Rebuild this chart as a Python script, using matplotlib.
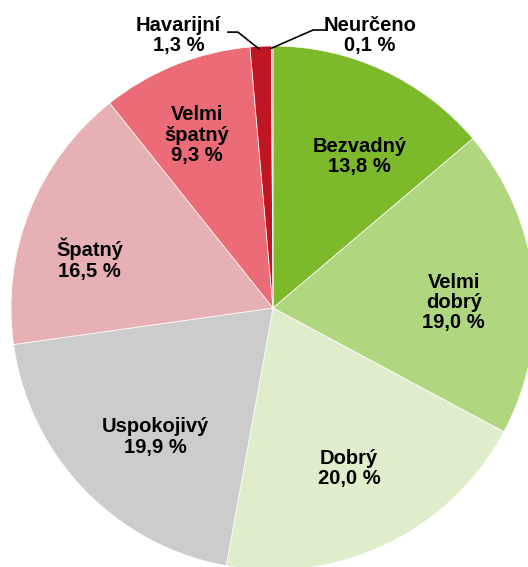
import matplotlib.pyplot as plt
import numpy as np

# kategorie stavu a podily (%)
categories = ['Bezvadný', 'Velmi\ndobrý', 'Dobrý', 'Uspokojivý', 'Špatný',
              'Velmi\nšpatný', 'Havarijní', 'Neurčeno']
shares = [13.8, 19.0, 20.0, 19.9, 16.5, 9.3, 1.3, 0.1]
colors = ['#7cba2c', '#b1d680', '#dfedcb', '#cccccc', '#e6b0b4',
          '#eb6c76', '#c01623', '#a6a6a6']

# label placement (axes units, radius = 1)
label_pos = [(0.33, 0.578), (0.69, 0.02), (0.29, -0.612), (-0.45, -0.492),
             (-0.70, 0.186), (-0.29, 0.66), (-0.36, 1.04), (0.37, 1.04)]
# leader lines: slice index, horizontal part start/end x, y
leaders = [(6, -0.172, -0.134, 1.053), (7, 0.198, 0.153, 1.061)]

plt.rcParams['font.family'] = ['Liberation Sans', 'DejaVu Sans']

fig = plt.figure(figsize=(5.28, 5.67), dpi=100)
R = 262
ax = fig.add_axes([11 / 528, -3 / 567, 2 * R / 528, 2 * R / 567])
wedges, _ = ax.pie(shares, colors=colors, startangle=90, counterclock=False,
                   radius=1, wedgeprops=dict(edgecolor='white', linewidth=0.5))
for w in wedges:
    w.set_clip_on(False)
ax.set_xlim(-1, 1)
ax.set_ylim(-1, 1)
ax.set_aspect('equal')
ax.axis('off')

for i, (cat, val) in enumerate(zip(categories, shares)):
    txt = f'{cat}\n{val:.1f} %'.replace('.', ',')
    x, y = label_pos[i]
    ax.text(x, y, txt, ha='center', va='center', fontsize=14.5,
            fontweight='bold', linespacing=1.08, clip_on=False)

# leader lines for the small slices
cum = np.cumsum([0] + shares)
for i, x0, x1, y0 in leaders:
    mid = np.deg2rad(90 - (cum[i] + shares[i] / 2) * 3.6)
    ex, ey = np.cos(mid) * 0.99, np.sin(mid) * 0.99
    ax.plot([x0, x1, ex], [y0, y0, ey], color='black', lw=1.2,
            clip_on=False, solid_joinstyle='miter')

fig.savefig('out.png', dpi=100)
